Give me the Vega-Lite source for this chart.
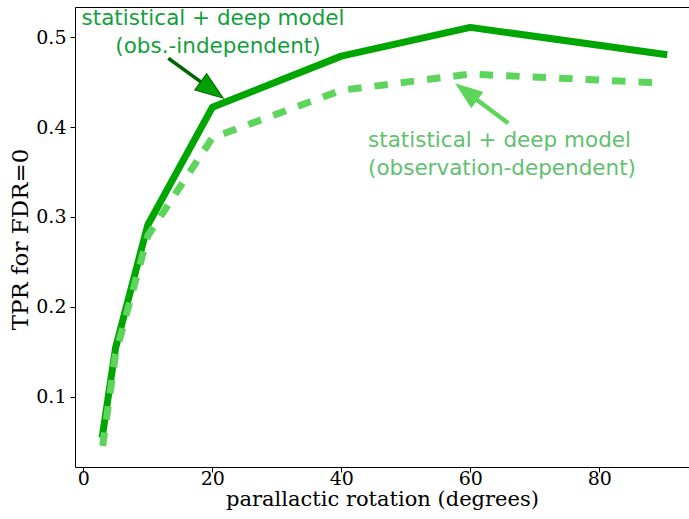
{
  "$schema": "https://vega.github.io/schema/vega-lite/v6.json",
  "width": 614,
  "height": 460,
  "autosize": "none",
  "padding": {"left": 75, "top": 7, "right": 0, "bottom": 52},
  "background": "white",
  "config": {"view": {"stroke": null}, "axis": {"grid": false}},
  "datasets": {
    "curves": [
      {"rotation": 3, "tpr": 0.058, "model": "independent"},
      {"rotation": 5, "tpr": 0.154, "model": "independent"},
      {"rotation": 10, "tpr": 0.291, "model": "independent"},
      {"rotation": 20, "tpr": 0.422, "model": "independent"},
      {"rotation": 40, "tpr": 0.479, "model": "independent"},
      {"rotation": 60, "tpr": 0.511, "model": "independent"},
      {"rotation": 90, "tpr": 0.481, "model": "independent"},
      {"rotation": 3, "tpr": 0.045, "model": "dependent"},
      {"rotation": 5, "tpr": 0.147, "model": "dependent"},
      {"rotation": 10, "tpr": 0.279, "model": "dependent"},
      {"rotation": 20, "tpr": 0.388, "model": "dependent"},
      {"rotation": 40, "tpr": 0.441, "model": "dependent"},
      {"rotation": 60, "tpr": 0.459, "model": "dependent"},
      {"rotation": 90, "tpr": 0.449, "model": "dependent"}
    ],
    "labels": [
      {"grp": "a", "x": 20.11, "y": 0.5137, "text": "statistical + deep model"},
      {"grp": "a", "x": 20.88, "y": 0.4822, "text": "(obs.-independent)"},
      {"grp": "b", "x": 44.14, "y": 0.3782, "text": "statistical + deep model"},
      {"grp": "b", "x": 44.14, "y": 0.3467, "text": "(observation-dependent)"}
    ],
    "arrows": [
      {"arrow": "a", "x0": 13.18, "y0": 0.4766, "x1": 18.70, "y1": 0.4478, "tx": 21.71, "ty": 0.4321, "angle": 126},
      {"arrow": "b", "x0": 65.89, "y0": 0.4042, "x1": 60.60, "y1": 0.4327, "tx": 57.63, "ty": 0.4488, "angle": 307}
    ]
  },
  "layer": [
    {
      "data": {"name": "curves"},
      "transform": [{"filter": "datum.model === 'independent'"}],
      "mark": {"type": "line", "color": "#00a600", "strokeWidth": 7, "strokeCap": "square", "strokeJoin": "round"},
      "encoding": {
        "x": {
          "field": "rotation", "type": "quantitative",
          "scale": {"domain": [-1.287, 93.91], "nice": false, "zero": false},
          "axis": {
            "orient": "bottom", "values": [0, 20, 40, 60, 80], "format": "d",
            "title": "parallactic rotation (degrees)",
            "labelFont": "DejaVu Serif", "labelFontSize": 19, "labelColor": "#000",
            "labelBaseline": "alphabetic", "labelPadding": 12, "labelFlush": false,
            "tickSize": 5, "tickColor": "#000", "tickWidth": 1,
            "domainColor": "#000", "domainWidth": 1,
            "titleFont": "DejaVu Serif", "titleFontSize": 21, "titleFontWeight": "normal",
            "titleColor": "#000", "titleBaseline": "alphabetic", "titleX": 307, "titleY": 38
          }
        },
        "y": {
          "field": "tpr", "type": "quantitative",
          "scale": {"domain": [0.0215, 0.5337], "nice": false, "zero": false},
          "axis": {
            "orient": "left",
            "values": [0.1, 0.2, 0.3, 0.4, 0.5], "format": ".1f",
            "title": "TPR for FDR=0",
            "labelFont": "DejaVu Serif", "labelFontSize": 19, "labelColor": "#000",
            "labelPadding": 4, "labelBaseline": "middle",
            "tickSize": 5, "tickColor": "#000", "tickWidth": 1,
            "domainColor": "#000", "domainWidth": 1,
            "titleFont": "DejaVu Serif", "titleFontSize": 23, "titleFontWeight": "normal",
            "titleColor": "#000", "titleBaseline": "alphabetic", "titleAngle": 270,
            "titleX": -48, "titleY": 232
          }
        }
      }
    },
    {
      "data": {"name": "curves"},
      "transform": [{"filter": "datum.model === 'dependent'"}],
      "mark": {"type": "line", "color": "#5dd55d", "strokeWidth": 7, "strokeDash": [13.5, 13], "strokeCap": "butt", "strokeJoin": "round"},
      "encoding": {
        "x": {
          "field": "rotation", "type": "quantitative",
          "axis": {"orient": "top", "labels": false, "ticks": false, "title": null, "domainColor": "#000", "domainWidth": 1}
        },
        "y": {"field": "tpr", "type": "quantitative", "axis": null}
      }
    },
    {
      "data": {"name": "arrows"},
      "transform": [{"filter": "datum.arrow === 'a'"}],
      "mark": {"type": "rule", "color": "#006400", "strokeWidth": 3.5},
      "encoding": {
        "x": {"field": "x0", "type": "quantitative", "axis": null},
        "y": {"field": "y0", "type": "quantitative", "axis": null},
        "x2": {"field": "x1"},
        "y2": {"field": "y1"}
      }
    },
    {
      "data": {"name": "arrows"},
      "transform": [{"filter": "datum.arrow === 'a'"}],
      "mark": {"type": "point", "shape": "M0,0L-0.36,1L0.36,1Z", "size": 3136, "filled": true, "fill": "#00a000", "stroke": "#006400", "strokeWidth": 1, "opacity": 1},
      "encoding": {
        "x": {"field": "tx", "type": "quantitative", "axis": null},
        "y": {"field": "ty", "type": "quantitative", "axis": null},
        "angle": {"field": "angle", "type": "quantitative", "scale": null}
      }
    },
    {
      "data": {"name": "arrows"},
      "transform": [{"filter": "datum.arrow === 'b'"}],
      "mark": {"type": "rule", "color": "#5dd55d", "strokeWidth": 4.5},
      "encoding": {
        "x": {"field": "x0", "type": "quantitative", "axis": null},
        "y": {"field": "y0", "type": "quantitative", "axis": null},
        "x2": {"field": "x1"},
        "y2": {"field": "y1"}
      }
    },
    {
      "data": {"name": "arrows"},
      "transform": [{"filter": "datum.arrow === 'b'"}],
      "mark": {"type": "point", "shape": "M0,0L-0.36,1L0.36,1Z", "size": 3136, "filled": true, "fill": "#5dd55d", "strokeWidth": 0, "opacity": 1},
      "encoding": {
        "x": {"field": "tx", "type": "quantitative", "axis": null},
        "y": {"field": "ty", "type": "quantitative", "axis": null},
        "angle": {"field": "angle", "type": "quantitative", "scale": null}
      }
    },
    {
      "data": {"name": "labels"},
      "transform": [{"filter": "datum.grp === 'a'"}],
      "mark": {"type": "text", "font": "DejaVu Sans", "fontSize": 21.5, "align": "center", "baseline": "alphabetic", "color": "#12a03c"},
      "encoding": {
        "x": {"field": "x", "type": "quantitative", "axis": null},
        "y": {"field": "y", "type": "quantitative", "axis": null},
        "text": {"field": "text"}
      }
    },
    {
      "data": {"name": "labels"},
      "transform": [{"filter": "datum.grp === 'b'"}],
      "mark": {"type": "text", "font": "DejaVu Sans", "fontSize": 21.5, "align": "left", "baseline": "alphabetic", "color": "#5fc06e"},
      "encoding": {
        "x": {"field": "x", "type": "quantitative", "axis": null},
        "y": {"field": "y", "type": "quantitative", "axis": null},
        "text": {"field": "text"}
      }
    }
  ],
  "resolve": {"axis": {"x": "independent", "y": "independent"}}
}
